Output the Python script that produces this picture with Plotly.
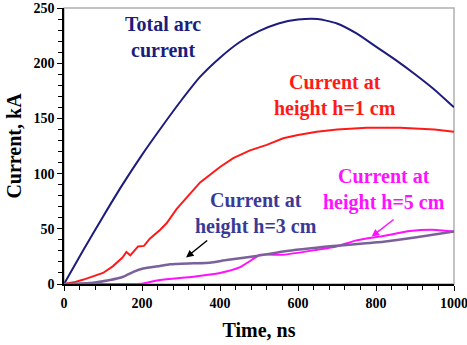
import plotly.graph_objects as go

t_total = [0, 50, 100, 150, 200, 250, 300, 350, 400, 450, 500, 550, 600, 650, 700, 750, 800, 850, 900, 950, 1000]
i_total = [0, 31, 61, 90, 117, 142, 166, 188, 205, 219, 229, 236, 239.5, 240, 236, 227, 215, 203, 190, 176, 160]

t_h1 = [0, 25, 50, 75, 100, 125, 150, 160, 170, 180, 190, 205, 220, 246, 263, 289, 306, 349, 400, 434, 477, 520, 562, 600, 648, 700, 776, 862, 950, 1000]
i_h1 = [0, 1.5, 4, 7, 10, 16, 24, 29, 26, 30, 34, 34.5, 41, 49, 55, 68, 75, 92, 106, 114, 121, 126, 132, 135, 138, 140, 141.5, 141.5, 140, 138]

t_h3 = [0, 75, 118, 152, 178, 203, 246, 272, 332, 374, 417, 494, 562, 690, 819, 904, 1000]
i_h3 = [0, 1.2, 3.6, 6.6, 11, 14, 16.3, 17.8, 18.7, 19.3, 21.7, 25.4, 29.5, 34.4, 38.3, 42.3, 47.5]

t_h5 = [0, 180, 203, 246, 332, 400, 450, 480, 503, 562, 648, 699, 750, 819, 887, 955, 1000]
i_h5 = [0, 0, 0.5, 3.6, 6.6, 10, 15, 21.5, 26.5, 26.5, 31, 34, 39.5, 43.5, 48, 49, 47.5]

x_ticks = [0, 200, 400, 600, 800, 1000]
y_ticks = [0, 50, 100, 150, 200, 250]

C_TOTAL = "#1c1c7c"
C_H1 = "#ff1a1a"
C_H3 = "#7a619c"
C_H5 = "#ff10ff"
C_H3_TEXT = "#3a3a96"
FONT = "Liberation Serif, Times New Roman, serif"

fig = go.Figure()
fig.add_trace(go.Scatter(x=t_total, y=i_total, mode="lines", line=dict(color=C_TOTAL, width=2, shape="spline", smoothing=0.6)))
fig.add_trace(go.Scatter(x=t_h1, y=i_h1, mode="lines", line=dict(color=C_H1, width=2)))
fig.add_trace(go.Scatter(x=t_h5, y=i_h5, mode="lines", line=dict(color=C_H5, width=2, shape="spline", smoothing=0.5)))
fig.add_trace(go.Scatter(x=t_h3, y=i_h3, mode="lines", line=dict(color=C_H3, width=2.5, shape="spline", smoothing=0.5)))

def label(x, y, text, color):
    fig.add_annotation(x=x, y=y, xref="x", yref="y", text=text, showarrow=False,
                       font=dict(family=FONT, size=20, color=color, weight="bold"), align="center")

label(254, 224, "Total arc<br>current", C_TOTAL)
label(695, 170.5, "Current at<br>height h=1 cm", C_H1)
label(492, 64, "Current at<br>height h=3 cm", C_H3_TEXT)
label(820, 86, "Current at<br>height h=5 cm", C_H5)

fig.add_annotation(x=313, y=24, ax=371, ay=40.5, xref="x", yref="y", axref="x", ayref="y", text="",
                   showarrow=True, arrowhead=2, arrowsize=1, arrowwidth=1.5, arrowcolor="black")
fig.add_annotation(x=789, y=43, ax=849, ay=59.5, xref="x", yref="y", axref="x", ayref="y", text="",
                   showarrow=True, arrowhead=2, arrowsize=1, arrowwidth=1.5, arrowcolor=C_H5)

fig.add_shape(type="rect", xref="paper", yref="paper", x0=0, y0=0, x1=1, y1=1,
              line=dict(color="#b0b0b0", width=1.5), layer="below")

axis_common = dict(showgrid=False, zeroline=False, showline=True, linecolor="black", linewidth=1.5,
                   ticks="outside", ticklen=5, tickwidth=1.2, tickcolor="black", ticklabeloverflow="allow",
                   automargin=False,
                   tickfont=dict(family=FONT, size=14, color="black", weight="bold"))

fig.update_xaxes(range=[0, 1000], tickvals=x_ticks, ticktext=[str(v) for v in x_ticks],
                 minor=dict(dtick=40, tick0=0, ticks="outside", ticklen=4, tickcolor="black", tickwidth=1),
                 title=dict(text="Time, ns", font=dict(family=FONT, size=20, color="black", weight="bold"), standoff=13),
                 **axis_common)
fig.update_yaxes(range=[0, 250], tickvals=y_ticks, ticktext=[str(v) for v in y_ticks],
                 minor=dict(dtick=10, tick0=0, ticks="outside", ticklen=4, tickcolor="black", tickwidth=1),
                 title=dict(text="Current, kA", font=dict(family=FONT, size=20, color="black", weight="bold"), standoff=6),
                 **axis_common)

fig.update_layout(width=467, height=345, margin=dict(l=64, r=13, t=8, b=61),
                  plot_bgcolor="white", paper_bgcolor="white", showlegend=False)

fig.write_html("out.html")
